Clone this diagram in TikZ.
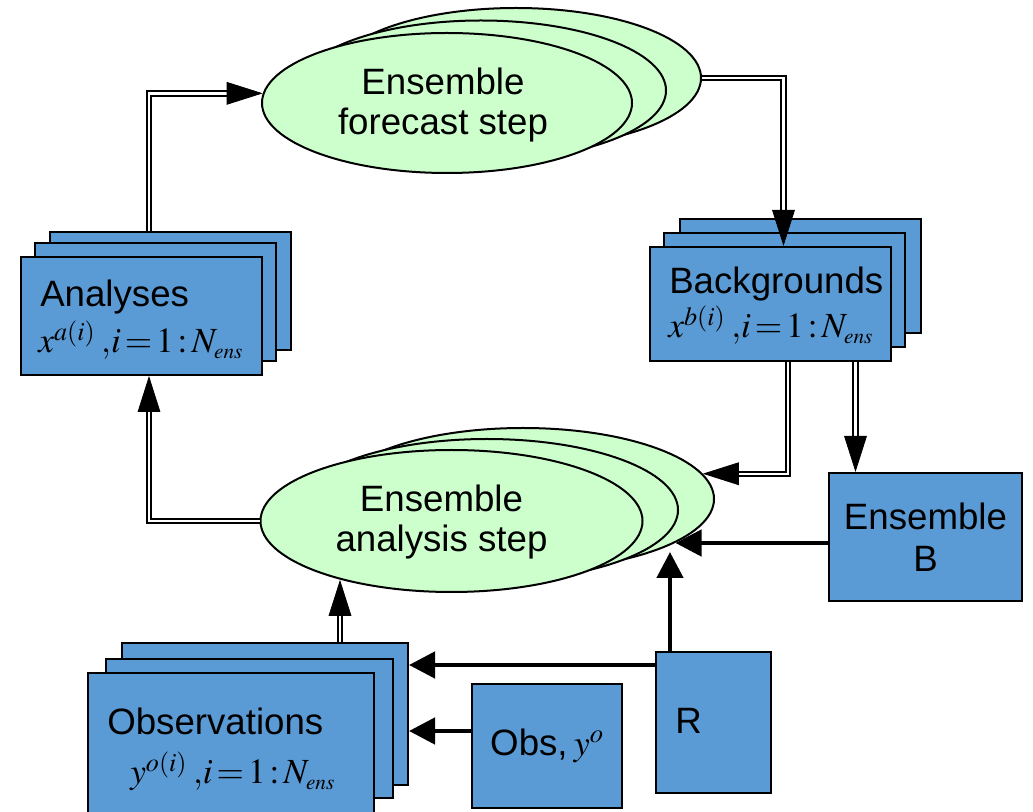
\documentclass[tikz,border=0pt]{standalone}
\usepackage{mathptmx}
\usepackage[no-math]{fontspec}
\setmainfont{Liberation Sans}
\usetikzlibrary{shapes.geometric,arrows.meta,calc}
\definecolor{boxblue}{RGB}{91,155,213}
\definecolor{ellgreen}{RGB}{204,255,204}
\newcommand{\ensline}[2]{$#1^{#2}\mkern3mu{,}i\mkern2mu{=}\mkern2mu1\mkern2mu{:}\mkern2mu N_{\scriptscriptstyle ens}$}
\begin{document}
\begin{tikzpicture}[x=0.75pt,y=-0.75pt,
  box/.style={draw=black, line width=1.5pt, fill=boxblue, rectangle, inner sep=0pt},
  fcell/.style={draw=black, line width=1.5pt, fill=ellgreen, ellipse, inner sep=0pt, minimum width=277.5pt, minimum height=105pt},
  anell/.style={draw=black, line width=1.5pt, fill=ellgreen, ellipse, inner sep=0pt, minimum width=286.5pt, minimum height=106.5pt},
  lbl/.style={font=\fontsize{27.5}{30}\selectfont, inner sep=0pt},
  mth/.style={font=\fontsize{26.5}{30}\selectfont, inner sep=0pt},
  dbl/.style={draw=black, line width=1.5pt, double=white, double distance=1.8pt},
  dtip/.style={draw=black, line width=0.6pt, -{Triangle[length=27pt,width=17pt]}},
  thk/.style={draw=black, line width=3.5pt, -{Triangle[length=19.5pt,width=19.5pt]}},
]
\useasboundingbox (0,0) rectangle (1033,812);

% forecast ellipses
\node[fcell] (faB) at (516,78) {};
\node[fcell] (faM) at (481,90.5) {};
\node[fcell] (faF) at (447,103) {};
\node[lbl, align=center] (faT) at (443,105.5) {Ensemble\\forecast step};

% analysis ellipses
\node[anell] (aaB) at (523,499) {};
\node[anell] (aaM) at (487,510) {};
\node[anell] (aaF) at (451.5,521) {};
\node[lbl, align=center] (aaT) at (441.5,522.5) {Ensemble\\analysis step};

% Analyses stack
\node[box, minimum width=180.75pt, minimum height=88.5pt] (anB) at (170.5,291) {};
\node[box, minimum width=180.75pt, minimum height=88.5pt] (anM) at (155.5,302.5) {};
\node[box, minimum width=180.75pt, minimum height=88.5pt] (anF) at (141.5,316) {};
\node[lbl, anchor=base west] (anL) at (40,307) {Analyses};
\node[mth, anchor=base west] (anX) at (38,353) {\ensline{x}{a(i)}};

% Backgrounds stack
\node[box, minimum width=180.75pt, minimum height=85.5pt] (bgB) at (800,276.5) {};
\node[box, minimum width=180.75pt, minimum height=85.5pt] (bgM) at (784.5,290.5) {};
\node[box, minimum width=180.75pt, minimum height=85.5pt] (bgF) at (770.5,304) {};
\node[lbl, anchor=base west] (bgL) at (669,294) {Backgrounds};
\node[mth, anchor=base west] (bgX) at (668,338) {\ensline{x}{b(i)}};

% Observations stack
\node[box, minimum width=214.5pt, minimum height=106.5pt] (obB) at (265,714) {};
\node[box, minimum width=215.25pt, minimum height=104.25pt] (obM) at (249.5,728.5) {};
\node[box, minimum width=214.5pt, minimum height=106.5pt] (obF) at (231,744) {};
\node[lbl, anchor=base west] (obL) at (107,735) {Observations};
\node[mth, anchor=base west] (obX) at (130,784) {\ensline{y}{o(i)}};

% Obs, R, Ensemble B
\node[box, lbl, minimum width=112.5pt, minimum height=93pt] (obsB) at (547,746) {Obs,\,{\fontsize{27}{30}\selectfont$y^{o}$}};
\node[box, minimum width=86.25pt, minimum height=105.75pt] (rB) at (713.5,722.5) {};
\node[lbl, anchor=base west] (rL) at (675,734) {R};
\node[box, lbl, align=center, font=\fontsize{27.5}{31.5}\selectfont, minimum width=144.75pt, minimum height=96pt] (ebB) at (925.5,537) {Ensemble\\B};

% connector 1: Analyses -> forecast
\coordinate (S1) at ($(anB.north west)+(100,0)$);
\coordinate (T1) at (faF.177.2);
\draw[dbl, shorten >=25pt] (S1) |- (T1);
\draw[dtip] ($(T1)+(-2,0)$) -- (T1);

% connector 2: forecast -> Backgrounds
\coordinate (S2) at (faB.east);
\coordinate (T2) at ($(bgF.north west)+(134.5,0)$);
\draw[dbl, shorten >=25pt] (S2) -| (T2);
\draw[dtip] ($(T2)+(0,-2)$) -- (T2);

% connector 3: Backgrounds -> analysis
\coordinate (S3) at ($(bgF.south west)+(139,0)$);
\coordinate (T3) at (aaB.8.3);
\draw[dbl, shorten >=25pt] (S3) |- (T3);
\draw[dtip] ($(T3)+(2,0)$) -- (T3);

% connector 4: Backgrounds -> Ensemble B
\coordinate (S4) at ($(bgF.south west)+(206.5,0)$);
\coordinate (T4) at (S4 |- ebB.north);
\draw[dbl, shorten >=25pt] (S4) -- (T4);
\draw[dtip] ($(T4)+(0,-2)$) -- (T4);

% connector 5: Ensemble B -> analysis
\coordinate (S5) at ($(ebB.west)+(0,6)$);
\coordinate (E5) at (aaB.-16.3);
\coordinate (T5) at (E5 |- S5);
\draw[thk] (S5) -- (T5);

% connector 6: R -> analysis
\coordinate (S6) at ($(rB.north west)+(15,0)$);
\coordinate (T6) at ($(S6)+(0,-99)$);
\draw[thk] (S6) -- (T6);

% connector 7: R -> Observations
\coordinate (S7) at ($(rB.north west)+(0,14)$);
\coordinate (T7) at (S7 -| obB.east);
\draw[thk] (S7) -- (T7);

% connector 8: Obs -> Observations
\coordinate (S8) at ($(obsB.north west)+(0,48)$);
\coordinate (T8) at (S8 -| obB.east);
\draw[thk] (S8) -- (T8);

% connector 9: Observations -> analysis
\coordinate (S9) at ($(obB.north west)+(219,0)$);
\coordinate (E9) at (aaF.-152.3);
\coordinate (T9) at (S9 |- E9);
\draw[dbl, shorten >=25pt] (S9) -- (T9);
\draw[dtip] ($(T9)+(0,2)$) -- (T9);

% connector 10: analysis -> Analyses
\coordinate (S10) at (aaF.west);
\coordinate (T10) at ($(anF.south west)+(129,0)$);
\draw[dbl, shorten >=25pt] (S10) -| (T10);
\draw[dtip] ($(T10)+(0,2)$) -- (T10);
\end{tikzpicture}
\end{document}
